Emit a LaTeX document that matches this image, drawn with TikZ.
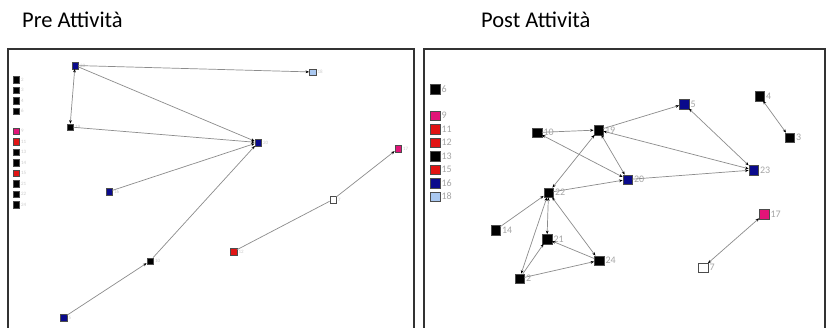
\documentclass[tikz,border=0pt]{standalone}
\usepackage{fontspec}
\setmainfont{Carlito}
\usetikzlibrary{arrows.meta}
\definecolor{nblue}{RGB}{10,10,140}
\definecolor{nmag}{RGB}{225,20,120}
\definecolor{nred}{RGB}{225,20,20}
\definecolor{nlblue}{RGB}{170,200,240}
\definecolor{edgec}{RGB}{140,140,140}
\definecolor{framec}{RGB}{50,50,50}
\tikzset{
  frame/.style={draw=framec,line width=1.2pt},
  title/.style={font=\fontsize{22.5}{24}\selectfont,anchor=base west,inner sep=0},
  lsq/.style={rectangle,minimum size=6.5pt,inner sep=0,draw=black!70,line width=0.3pt},
  rsq/.style={rectangle,minimum size=9.5pt,inner sep=0,draw=black!70,line width=0.3pt},
  ll/.style={font=\fontsize{5}{5}\selectfont,text=gray!40,inner sep=0.5pt,label distance=1pt},
  rl/.style={font=\fontsize{10}{10}\selectfont,text=gray!70,inner sep=0.5pt,label distance=1pt},
  edge/.style={draw=edgec,line width=0.7pt},
  ar/.style={edge,-{Stealth[black,length=3.5pt,width=2.8pt]}},
  ab/.style={edge,{Stealth[black,length=3.5pt,width=2.8pt]}-{Stealth[black,length=3.5pt,width=2.8pt]}},
}
\newcommand\LN[4]{\node[lsq,fill=#2,label={[ll]0:#4}] (l#1) at (#3) {};}
\newcommand\RN[4]{\node[rsq,fill=#2,label={[rl]0:#4}] (r#1) at (#3) {};}
\begin{document}
\begin{tikzpicture}[x=1pt,y=-1pt]
\clip (0,0) rectangle (826,328);
\fill[white] (0,0) rectangle (826,328);
% titles
\node[title] (t1) at (22,28) {Pre Attività};
\node[title] (t2) at (481,28) {Post Attività};
% frames
\draw[frame] (8,49) rectangle (414,340);
\draw[frame] (424,49) rectangle (825,340);
% ---------- left panel ----------
\LN{lg2}{black}{16,79.5}{2}
\LN{lg3}{black}{16,90}{3}
\LN{lg4}{black}{16,100.5}{4}
\LN{lg6}{black}{16,111}{6}
\LN{lg9}{nmag}{16,131}{9}
\LN{lg11}{nred}{16,141.5}{11}
\LN{lg13}{black}{16,152}{13}
\LN{lg14}{black}{16,162.5}{14}
\LN{lg15}{nred}{16,173}{15}
\LN{lg21}{black}{16,183.5}{21}
\LN{lg22}{black}{16,194}{22}
\LN{lg24}{black}{16,204.5}{24}
\LN{23}{nblue}{75,65.5}{23}
\LN{18}{nlblue}{312.5,72}{18}
\LN{19}{black}{70,127}{19}
\LN{20}{nblue}{258,142.5}{20}
\LN{17}{nmag}{398,148.5}{17}
\LN{16}{nblue}{109,191.5}{16}
\LN{7}{white}{333,199.5}{7}
\LN{12}{nred}{233.5,251.5}{12}
\LN{10}{black}{150,261}{10}
\LN{5}{nblue}{63.5,317.5}{5}
\draw[ar] (l23) -- (l18);
\draw[ab] (l23) -- (l19);
\draw[ar] (l23) -- (l20);
\draw[ar] (l19) -- (l20);
\draw[ar] (l16) -- (l20);
\draw[ar] (l10) -- (l20);
\draw[ar] (l5) -- (l10);
\draw[edge] (l12) -- (l7);
\draw[ar] (l7) -- (l17);
% ---------- right panel ----------
\RN{lg6}{black}{435,89}{6}
\RN{lg9}{nmag}{435,115.5}{9}
\RN{lg11}{nred}{435,129}{11}
\RN{lg12}{nred}{435,142.5}{12}
\RN{lg13}{black}{435,156}{13}
\RN{lg15}{nred}{435,169.5}{15}
\RN{lg16}{nblue}{435,183}{16}
\RN{lg18}{nlblue}{435,196.5}{18}
\RN{4}{black}{759.5,96}{4}
\RN{3}{black}{789.5,137.5}{3}
\RN{5}{nblue}{684,104}{5}
\RN{19}{black}{598.5,130}{19}
\RN{10}{black}{537,132.5}{10}
\RN{23}{nblue}{753.5,170}{23}
\RN{20}{nblue}{627.5,179.5}{20}
\RN{22}{black}{548.5,192.5}{22}
\RN{14}{black}{495.5,230}{14}
\RN{21}{black}{547,239}{21}
\RN{24}{black}{599,260.5}{24}
\RN{2}{black}{519.5,278.5}{2}
\RN{17}{nmag}{764,214}{17}
\RN{7}{white}{703,267.5}{7}
\draw[ab] (r4) -- (r3);
\draw[ar] (r19) -- (r5);
\draw[ab] (r5) -- (r23);
\draw[ar] (r10) -- (r19);
\draw[ab] (r10) -- (r20);
\draw[ab] (r19) -- (r20);
\draw[ab] (r19) -- (r23);
\draw[ar] (r20) -- (r23);
\draw[ab] (r22) -- (r19);
\draw[ar] (r22) -- (r20);
\draw[ar] (r14) -- (r22);
\draw[ab] (r22) -- (r21);
\draw[ab] (r22) -- (r24);
\draw[ab] (r22) -- (r2);
\draw[ar] (r24) -- (r21);
\draw[ar] (r2) -- (r21);
\draw[ar] (r2) -- (r24);
\draw[ab] (r7) -- (r17);
\end{tikzpicture}
\end{document}
